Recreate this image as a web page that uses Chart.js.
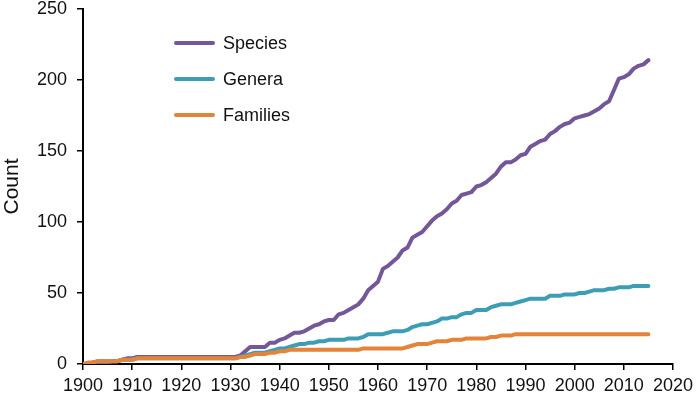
<!DOCTYPE html>
<html>
<head>
<meta charset="utf-8">
<script src="https://cdn.jsdelivr.net/npm/chart.js@4"></script>
<style>
html,body{margin:0;padding:0;background:#fff;}
#wrap{width:700px;height:401px;position:relative;}
</style>
</head>
<body>
<div id="wrap"><canvas id="c" width="700" height="401"></canvas></div>
<script>
const years = [
1900,1901,1902,1903,1904,1905,1906,1907,1908,1909,
1910,1911,1912,1913,1914,1915,1916,1917,1918,1919,
1920,1921,1922,1923,1924,1925,1926,1927,1928,1929,
1930,1931,1932,1933,1934,1935,1936,1937,1938,1939,
1940,1941,1942,1943,1944,1945,1946,1947,1948,1949,
1950,1951,1952,1953,1954,1955,1956,1957,1958,1959,
1960,1961,1962,1963,1964,1965,1966,1967,1968,1969,
1970,1971,1972,1973,1974,1975,1976,1977,1978,1979,
1980,1981,1982,1983,1984,1985,1986,1987,1988,1989,
1990,1991,1992,1993,1994,1995,1996,1997,1998,1999,
2000,2001,2002,2003,2004,2005,2006,2007,2008,2009,
2010,2011,2012,2013,2014,2015];

const species = [
0,0,1,1,1,1,2,2,3,4,
4,5,5,5,5,5,5,5,5,5,
5,5,5,5,5,5,5,5,5,5,
5,5,6,9,12,12,12,12,15,15,
17,18,20,22,22,23,25,27,28,30,
31,31,35,36,38,40,42,46,52,55,
58,67,69,72,75,80,82,89,91,93,
97,101,104,106,109,113,115,119,120,121,
125,126,128,131,134,139,142,142,144,147,
148,153,155,157,158,162,164,167,169,170,
173,174,175,176,178,180,183,185,193,201,
202,204,208,210,211,214];

const genera = [
0,0,1,2,2,2,2,2,3,3,
3,4,4,4,4,4,4,4,4,4,
4,4,4,4,4,4,4,4,4,4,
4,4,5,6,7,8,8,8,9,10,
11,11,12,13,14,14,15,15,16,16,
17,17,17,17,18,18,18,19,21,21,
21,21,22,23,23,23,24,26,27,28,
28,29,30,32,32,33,33,35,36,36,
38,38,38,40,41,42,42,42,43,44,
45,46,46,46,46,48,48,48,49,49,
49,50,50,51,52,52,52,53,53,54,
54,54,55,55,55,55];

const families = [
0,1,1,2,2,2,2,2,3,3,
3,4,4,4,4,4,4,4,4,4,
4,4,4,4,4,4,4,4,4,4,
4,4,5,5,6,7,7,7,8,8,
9,9,10,10,10,10,10,10,10,10,
10,10,10,10,10,10,10,11,11,11,
11,11,11,11,11,11,12,13,14,14,
14,15,16,16,16,17,17,17,18,18,
18,18,18,19,19,20,20,20,21,21,
21,21,21,21,21,21,21,21,21,21,
21,21,21,21,21,21,21,21,21,21,
21,21,21,21,21,21];

const seriesNames = ["Species", "Genera", "Families"];
const xTicks = [1900,1910,1920,1930,1940,1950,1960,1970,1980,1990,2000,2010,2020];
const yTicks = [0,50,100,150,200,250];

const colors = ["#735798", "#3C9DB5", "#E3843A"];
const FONT = "'Liberation Sans', Arial, sans-serif";

function pts(vals){ return years.map((y,i)=>({x:y, y:vals[i]})); }

const legendPlugin = {
  id: 'customLegend',
  afterDraw(chart){
    const ctx = chart.ctx;
    ctx.save();
    const rows = [43, 79, 115];
    chart.data.datasets.forEach((ds, i) => {
      const y = rows[i];
      ctx.strokeStyle = ds.borderColor;
      ctx.lineWidth = 4;
      ctx.lineCap = 'round';
      ctx.beginPath();
      ctx.moveTo(176, y);
      ctx.lineTo(213, y);
      ctx.stroke();
      ctx.fillStyle = '#111';
      ctx.font = "18px " + FONT;
      ctx.textBaseline = 'middle';
      ctx.textAlign = 'left';
      ctx.fillText(ds.label, 223, y + 1);
    });
    ctx.restore();
  }
};

new Chart(document.getElementById('c'), {
  type: 'line',
  data: {
    datasets: [
      {label: seriesNames[0], data: pts(species), borderColor: colors[0], backgroundColor: colors[0], order: 2},
      {label: seriesNames[1], data: pts(genera), borderColor: colors[1], backgroundColor: colors[1], order: 1},
      {label: seriesNames[2], data: pts(families), borderColor: colors[2], backgroundColor: colors[2], order: 0}
    ]
  },
  options: {
    responsive: false,
    animation: false,
    devicePixelRatio: 1,
    layout: {padding: {top: 0, right: 0, left: 0, bottom: 0}},
    elements: {
      line: {borderWidth: 4, tension: 0, borderCapStyle: 'round', borderJoinStyle: 'round'},
      point: {radius: 0}
    },
    plugins: {legend: {display: false}, tooltip: {enabled: false}},
    scales: {
      x: {
        type: 'linear',
        min: 1900, max: 2020,
        afterBuildTicks(scale){ scale.ticks = xTicks.map(v => ({value: v})); },
        afterFit(scale){ scale.height = 37; },
        ticks: {color: '#111', font: {size: 18, family: FONT, lineHeight: 1.05}, padding: 7, maxRotation: 0, autoSkip: false,
                callback: v => String(v)},
        grid: {display: true, drawOnChartArea: false, drawTicks: true, tickLength: 6, color: '#000', lineWidth: 1.5},
        border: {display: true, color: '#000', width: 2}
      },
      y: {
        type: 'linear',
        min: 0, max: 250,
        afterBuildTicks(scale){ scale.ticks = yTicks.map(v => ({value: v})); },
        afterFit(scale){ scale.width = 83; scale.paddingTop = 9; scale.paddingBottom = 9; },
        ticks: {color: '#111', font: {size: 18, family: FONT, lineHeight: 1.05}, padding: 10, callback: v => String(v)},
        grid: {display: true, drawOnChartArea: false, drawTicks: true, tickLength: 6, color: '#000', lineWidth: 1.5},
        border: {display: true, color: '#000', width: 2},
        title: {display: true, text: 'Count', color: '#111', font: {size: 21, family: FONT}, padding: 0}
      }
    }
  },
  plugins: [legendPlugin]
});
</script>
</body>
</html>
